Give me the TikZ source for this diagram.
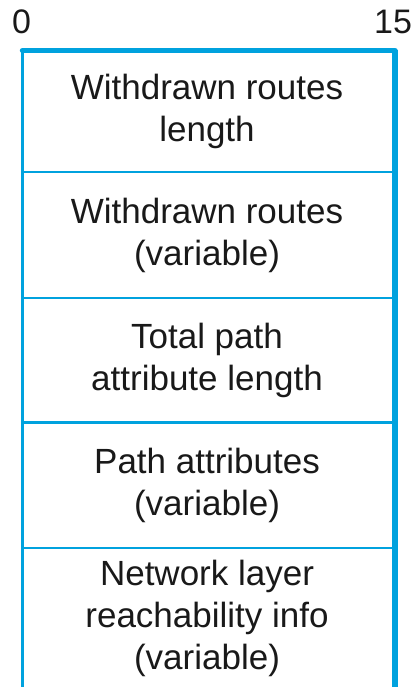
\documentclass[tikz,border=0pt]{standalone}
\usepackage{fontspec}
\setmainfont{Liberation Sans}
\definecolor{framecol}{RGB}{0,162,222}
\begin{document}
\begin{tikzpicture}[x=1pt,y=1pt,
  field/.style={align=center,inner sep=0pt,font=\fontsize{35}{42}\selectfont,text=black!90},
  bitlabel/.style={inner sep=0pt,font=\fontsize{34}{40}\selectfont,text=black!90,anchor=base},
  thin/.style={draw=framecol,line width=2.2pt},
  thick/.style={draw=framecol,line width=5.5pt}]
\useasboundingbox (0,0) rectangle (417,687);
% frame
\coordinate (tl) at (22.5,636.5);
\coordinate (tr) at (395,636.5);
\coordinate (bl) at (22.5,0);
\coordinate (br) at (395,0);
\draw[thin] (tl) -- (bl);
\draw[thick] (tr) -- (br);
\draw[thick,line cap=round] (tl) -- (tr);
% dividers
\foreach \yy in {515,389,264.5,139}{
  \draw[thin] (22.5,\yy) -- (395,\yy);
}
% bit labels
\node[bitlabel] (b0) at (21.5,653) {0};
\node[bitlabel] (b15) at (393,653) {15};
% fields
\node[field] (f1) at (207,575.5) {Withdrawn routes\\length};
\node[field] (f2) at (207,452) {Withdrawn routes\\(variable)};
\node[field] (f3) at (207,326.5) {Total path\\attribute length};
\node[field] (f4) at (207,201.5) {Path attributes\\(variable)};
\node[field] (f5) at (207,69) {Network layer\\reachability info\\(variable)};
\end{tikzpicture}
\end{document}
